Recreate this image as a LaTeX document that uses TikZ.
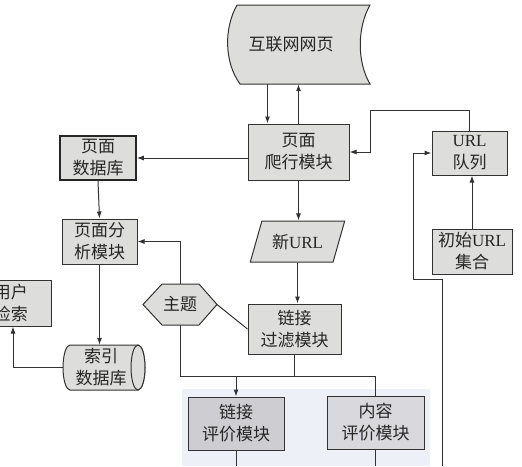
\documentclass[tikz,border=0pt]{standalone}
\usepackage{fontspec}
\setmainfont{Liberation Serif}
\newfontfamily\cjk{Noto Sans CJK SC}
\usetikzlibrary{arrows.meta,shapes.geometric}
\newcommand{\latn}[1]{{\rmfamily #1}}

\definecolor{boxgray}{RGB}{221,221,219}
\definecolor{evalgray}{RGB}{205,205,210}
\definecolor{evalgrayb}{RGB}{216,216,221}
\definecolor{wmark}{RGB}{237,240,246}
\definecolor{linegray}{RGB}{50,50,50}

\tikzset{
  box/.style={draw=linegray, fill=boxgray, line width=1pt, align=center, inner sep=0pt,
    font=\cjk\fontsize{17}{22}\selectfont, text=black!85},
  txt/.style={align=center, inner sep=0pt, font=\cjk\fontsize{17}{22}\selectfont, text=black!85},
  conn/.style={draw=linegray, line width=1pt},
  outline/.style={draw=linegray, fill=boxgray, line width=1pt}
}

\begin{document}
\begin{tikzpicture}[x=1pt, y=-1pt, >={Latex[length=7pt,width=5pt]}]
\useasboundingbox (0,0) rectangle (522,466);
\clip (0,0) rectangle (522,466);
\fill[wmark] (182,389) rectangle (430,466);

% shapes drawn by hand
\draw[outline] (237,5) -- (370,5) .. controls (357,28) and (357,62) .. (370,84)
    -- (240,84) .. controls (224,62) and (224,28) .. (237,5);
\draw[outline] (143,304.5) -- (162,284) -- (199,284) -- (217,304.5) -- (199,325) -- (162,325) -- cycle;
\draw[outline] (138,345) -- (70,345) arc[start angle=90, end angle=270, x radius=7pt, y radius=22.5pt]
    -- (138,390) arc[start angle=-90, end angle=90, x radius=7pt, y radius=22.5pt];
\draw[outline] (138,367.5) ellipse[x radius=7pt, y radius=22.5pt];

\node[txt, minimum width=130pt, minimum height=79pt] (web) at (291,44.5) {互联网网页};
\node[box, minimum width=101pt, minimum height=56pt] (crawl) at (298.5,152) {页面\\爬行模块};
\node[box, minimum width=76pt, minimum height=44pt, line width=1.5pt, draw=black!85] (pagedb) at (98,158) {页面\\数据库};
\node[box, minimum width=75pt, minimum height=45pt] (analyze) at (99.5,241.5) {页面分\\析模块};
\node[txt, minimum width=82pt, minimum height=45pt] (index) at (101,367.5) {索引\\数据库};
\node[box, minimum width=80pt, minimum height=46pt] (user) at (11,303) {用户\\检索};
\node[box, minimum width=75pt, minimum height=44pt] (urlq) at (469.5,153) {\latn{URL}\\队列};
\node[box, minimum width=80pt, minimum height=45pt] (init) at (472,251.5) {初始\latn{URL}\\集合};
\node[box, trapezium, trapezium left angle=62, trapezium right angle=118, trapezium stretches=true,
    minimum width=95pt, minimum height=41pt] (newurl) at (297.5,241.5) {新\latn{URL}};
\node[box, minimum width=93pt, minimum height=50pt] (filter) at (294.5,329) {链接\\过滤模块};
\node[txt] (topic) at (180,304.5) {主题};
\node[box, fill=evalgray, minimum width=96pt, minimum height=53pt] (linkeval) at (236,423.5) {链接\\评价模块};
\node[box, fill=evalgrayb, minimum width=97pt, minimum height=53pt] (content) at (375.5,422.5) {内容\\评价模块};

\coordinate (dn) at ([xshift=-31pt]crawl.north);
\coordinate (qa) at (370,110);
\coordinate (lb) at (442,466);
\coordinate (lc) at (413,279);
\coordinate (split) at (296,376);
\coordinate (bot) at (0,466);
\coordinate (idxw) at (63,367.5);

\draw[conn,->] (dn |- web.south) -- (dn);
\draw[conn,->] (crawl.north) -- (crawl.north |- web.south);
\draw[conn,->] (crawl.west |- pagedb.east) -- (pagedb.east);
\draw[conn,->] (pagedb.south) -- (analyze.north);
\draw[conn,->] (analyze.south) -- (analyze.south |- index.north);
\draw[conn,->] (idxw) -| ([xshift=2pt]user.south);
\draw[conn,->] (urlq.north) |- (qa) |- (crawl.east);
\draw[conn,->] (lb) |- (lc) |- (urlq.west);
\draw[conn,->] (init.north) -- (init.north |- urlq.south);
\draw[conn,->] (crawl.south) -- (crawl.south |- newurl.north);
\draw[conn,->] (newurl.south) -- (newurl.south |- filter.north);
\draw[conn] (217,304.5) -- (filter.west);
\draw[conn,->] (topic.north |- 0,284) |- (analyze.east);
\draw[conn] (topic.south |- 0,325) |- (content.north |- split) -- (content.north);
\draw[conn] (filter.south) -- (filter.south |- split);
\draw[conn,->] (linkeval.north |- split) -- (linkeval.north);
\draw[conn] (linkeval.south) -- (linkeval.south |- bot);
\draw[conn] (content.south) -- (content.south |- bot);
\end{tikzpicture}
\end{document}
